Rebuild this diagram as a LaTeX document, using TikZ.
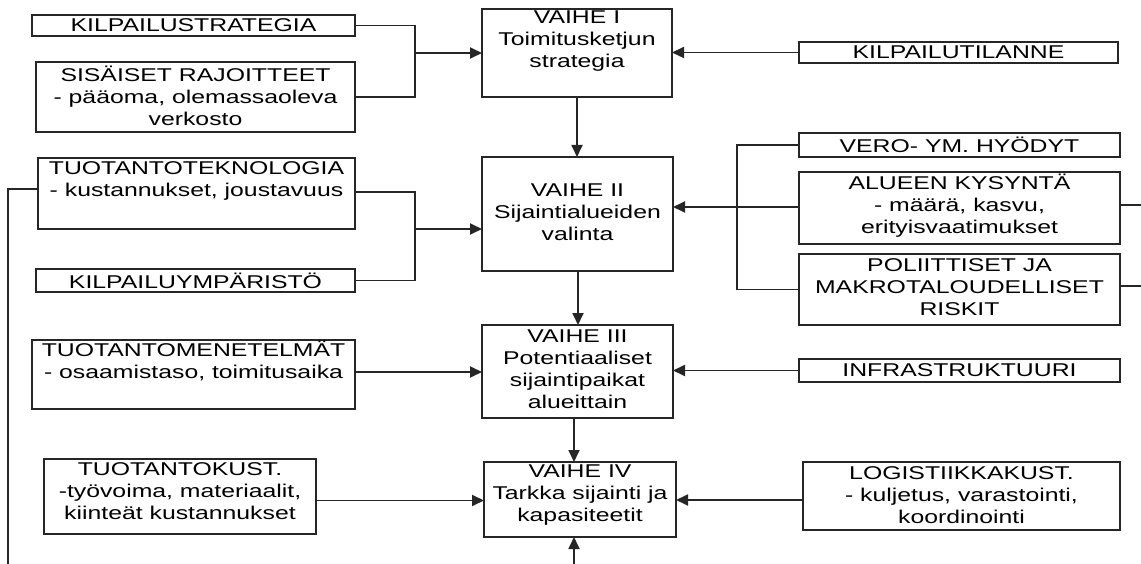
\documentclass[tikz,border=0pt]{standalone}
\usepackage{fontspec}
\setmainfont{Liberation Sans}[FakeStretch=1.34]
\usetikzlibrary{arrows.meta}
\begin{document}
\begin{tikzpicture}[x=1pt,y=-1pt,
  box/.style={draw=black!85, line width=1.8pt, inner sep=0pt, outer sep=0pt},
  txt/.style={align=center, inner sep=0pt, font=\fontsize{18.5}{22}\selectfont},
  ln/.style={draw=black!85, line width=1.8pt},
  arr/.style={ln, -{Triangle[length=12pt,width=11pt]}}]
\useasboundingbox (0,0) rectangle (1141,564);
% boxes: center at ((x1+x2)/2,(y1+y2)/2)
\node[box, minimum width=323, minimum height=21] (ks) at (193.5,25.5) {};
\node[box, minimum width=319, minimum height=70] (sr) at (195.5,97) {};
\node[box, minimum width=317, minimum height=71] (tt) at (196.5,193.5) {};
\node[box, minimum width=319, minimum height=23] (ky) at (195.5,280.5) {};
\node[box, minimum width=323, minimum height=69] (tm) at (193.5,374.5) {};
\node[box, minimum width=272, minimum height=75] (tk) at (180,496.5) {};
\node[box, minimum width=190, minimum height=88] (v1) at (577,53) {};
\node[box, minimum width=191, minimum height=114] (v2) at (577.5,214) {};
\node[box, minimum width=191, minimum height=93] (v3) at (577.5,371.5) {};
\node[box, minimum width=192, minimum height=75] (v4) at (580,499.5) {};
\node[box, minimum width=319, minimum height=21] (kt) at (958.5,52.5) {};
\node[box, minimum width=321, minimum height=24] (vero) at (959.5,145) {};
\node[box, minimum width=321, minimum height=72] (al) at (959.5,208) {};
\node[box, minimum width=321, minimum height=71] (pol) at (959.5,289.5) {};
\node[box, minimum width=321, minimum height=23] (inf) at (959.5,370.5) {};
\node[box, minimum width=317, minimum height=68] (lg) at (961.5,496) {};
% texts
\node[txt] (tks) at (193.5,25.5) {KILPAILUSTRATEGIA};
\node[txt] (tsr) at (195.5,95.5) {SISÄISET RAJOITTEET\\- pääoma, olemassaoleva\\verkosto};
\node[txt] (ttt) at (196.5,181) {TUOTANTOTEKNOLOGIA\\- kustannukset, joustavuus};
\node[txt] (tky) at (195.5,280.5) {KILPAILUYMPÄRISTÖ};
\node[txt] (ttm) at (193.5,360.5) {TUOTANTOMENETELMÄT\\- osaamistaso, toimitusaika};
\node[txt] (ttk) at (180,491) {TUOTANTOKUST.\\-työvoima, materiaalit,\\kiinteät kustannukset};
\node[txt] (tv1) at (577,41) {VAIHE I\\Toimitusketjun\\strategia};
\node[txt] (tv2) at (577.5,212) {VAIHE II\\Sijaintialueiden\\valinta};
\node[txt] (tv3) at (577.5,369) {VAIHE III\\Potentiaaliset\\sijaintipaikat\\alueittain};
\node[txt] (tv4) at (580,495) {VAIHE IV\\Tarkka sijainti ja\\kapasiteetit};
\node[txt] (tkt) at (958.5,52.5) {KILPAILUTILANNE};
\node[txt] (tvero) at (959.5,145) {VERO- YM. HYÖDYT};
\node[txt] (tal) at (959.5,206) {ALUEEN KYSYNTÄ\\- määrä, kasvu,\\erityisvaatimukset};
\node[txt] (tpol) at (959.5,287) {POLIITTISET JA\\MAKROTALOUDELLISET\\RISKIT};
\node[txt] (tinf) at (959.5,370.5) {INFRASTRUKTUURI};
\node[txt] (tlg) at (961.5,495) {LOGISTIIKKAKUST.\\- kuljetus, varastointi,\\koordinointi};
% junction coordinates
\coordinate (b1) at (415,53);
\coordinate (b2) at (415,229);
\coordinate (b3) at (737,207);
\coordinate (lc) at (8,189);
\coordinate (lb) at (8,564);
\coordinate (bb) at (574,564);
\coordinate (ra) at (1141,205);
\coordinate (rp) at (1141,286);
% left brackets
\draw[ln] (ks.east) -| (b1);
\draw[ln] (sr.east) -| (b1);
\draw[arr] (b1) -- (b1 -| v1.west);
\draw[ln] (tt.east |- 0,192) -| (b2);
\draw[ln] (ky.east) -| (b2);
\draw[arr] (b2) -- (b2 -| v2.west);
\draw[arr] (tm.east |- 0,372) -- (v3.west |- 0,372);
\draw[arr] (tk.east |- 0,500.5) -- (v4.west |- 0,500.5);
% right side
\draw[arr] (kt.west) -- (kt.west -| v1.east);
\draw[ln] (vero.west) -| (b3);
\draw[ln] (pol.west) -| (b3);
\draw[ln] (al.west |- b3) -- (b3);
\draw[arr] (b3) -- (b3 -| v2.east);
\draw[arr] (inf.west) -- (inf.west -| v3.east);
\draw[arr] (lg.west |- 0,500) -- (v4.east |- 0,500);
\draw[ln] (al.east |- ra) -- (ra);
\draw[ln] (pol.east |- rp) -- (rp);
% vertical flow
\draw[arr] (v1.south) -- (v1.south |- v2.north);
\draw[arr] (v2.south -| 578,0) -- (v3.north -| 578,0);
\draw[arr] (v3.south -| 574,0) -- (v4.north -| 574,0);
\draw[arr] (bb) -- (v4.south -| bb);
% left long line
\draw[ln] (tt.west |- lc) -- (lc) -- (lb);
\end{tikzpicture}
\end{document}
